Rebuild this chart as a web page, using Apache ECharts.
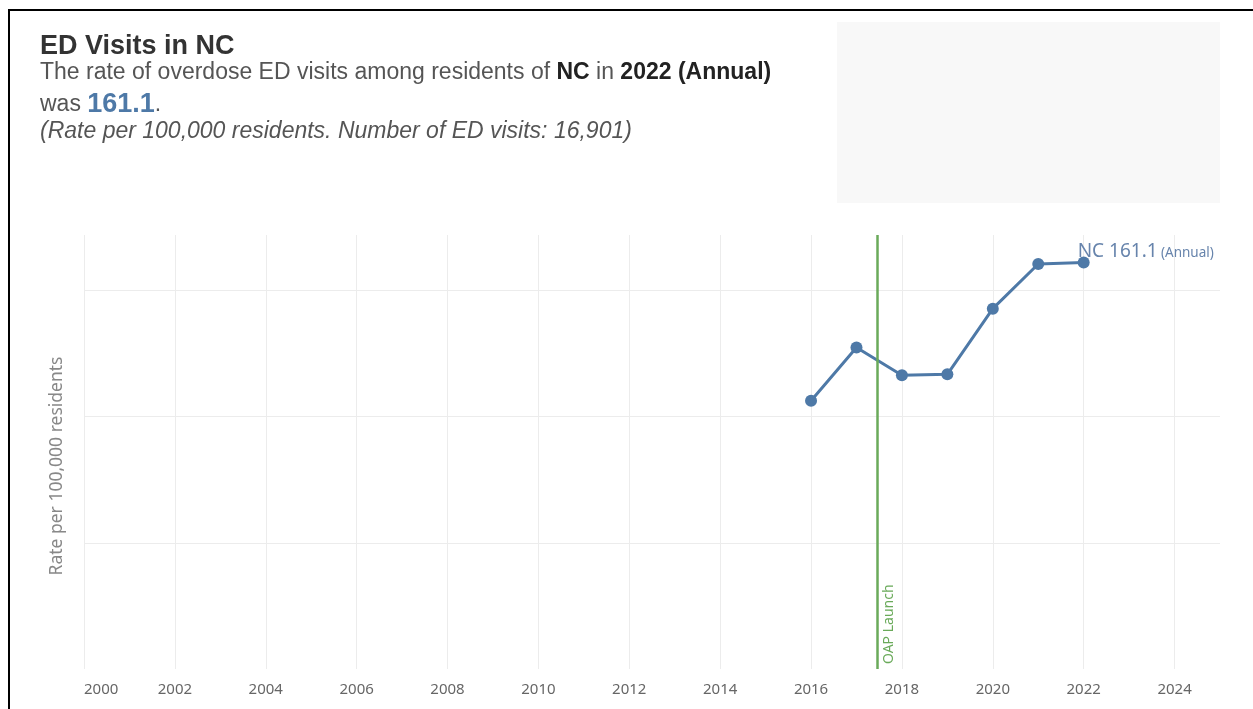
<!DOCTYPE html>
<html>
<head>
<meta charset="utf-8">
<title>ED Visits in NC</title>
<script src="https://cdn.jsdelivr.net/npm/echarts@6/dist/echarts.min.js"></script>
<style>
  html, body { margin: 0; padding: 0; background: #fff; }
  #chart { width: 1253px; height: 709px; }
</style>
</head>
<body>
<div id="chart"></div>
<script>
// data
const years = [2016, 2017, 2018, 2019, 2020, 2021, 2022];
const rates = [106.3, 127.4, 116.4, 116.8, 142.8, 160.5, 161.1];
const launchYear = 2017.45;
const xTicks = [2000, 2002, 2004, 2006, 2008, 2010, 2012, 2014, 2016, 2018, 2020, 2022, 2024];

const blue = '#4e79a7';
const green = '#6aaa5a';
const chartFont = '"Noto Sans", sans-serif';
const headFont = '"Liberation Sans", Arial, sans-serif';

const chart = echarts.init(document.getElementById('chart'));

const points = years.map((y, i) => {
  const item = { value: [y, rates[i]] };
  if (i === years.length - 1) {
    item.label = {
      show: true,
      position: [0, -14],
      formatter: '{a|NC ' + rates[i].toFixed(1) + '} {b|(Annual)}',
      rich: {
        a: { fontSize: 19, color: '#6784ac', fontFamily: chartFont },
        b: { fontSize: 13.5, color: '#6784ac', fontFamily: chartFont, padding: [2, 0, 0, 0] },
      },
    };
  }
  return item;
});

chart.setOption({
  animation: false,
  grid: { left: 84, right: 33, top: 235, bottom: 40 },
  xAxis: {
    type: 'value',
    min: 2000,
    max: 2025,
    interval: 2,
    axisLine: { show: false },
    axisTick: { show: false },
    axisLabel: {
      color: '#666',
      fontSize: 15,
      fontFamily: chartFont,
      margin: 13,
      showMaxLabel: false,
      alignMinLabel: 'left',
      formatter: v => (xTicks.indexOf(v) >= 0 ? String(v) : ''),
    },
    splitLine: { show: true, showMaxLine: false, lineStyle: { color: '#ececec', width: 1 } },
  },
  yAxis: {
    type: 'value',
    min: 0,
    max: 172,
    interval: 50,
    axisLine: { show: false },
    axisTick: { show: false },
    axisLabel: { show: false },
    splitLine: { show: true, showMinLine: false, showMaxLine: false, lineStyle: { color: '#ececec', width: 1 } },
  },
  series: [
    {
      type: 'line',
      data: points,
      symbol: 'circle',
      symbolSize: 12,
      color: blue,
      lineStyle: { color: blue, width: 3 },
      itemStyle: { color: blue },
      markLine: {
        silent: true,
        symbol: 'none',
        lineStyle: { color: green, width: 2.5, type: 'solid' },
        label: {
          show: true,
          position: 'insideStartBottom',
          formatter: 'OAP Launch',
          color: green,
          fontSize: 14,
          fontFamily: chartFont,
          distance: 5,
        },
        data: [{ xAxis: launchYear }],
      },
    },
  ],
  graphic: [
    { type: 'rect', shape: { x: 837, y: 22, width: 383, height: 181 }, style: { fill: '#f8f8f8' }, silent: true },
    { type: 'line', shape: { x1: 8, y1: 10, x2: 1253, y2: 10 }, style: { stroke: '#000', lineWidth: 2 } },
    { type: 'line', shape: { x1: 9, y1: 9, x2: 9, y2: 709 }, style: { stroke: '#000', lineWidth: 2 } },
    {
      type: 'text', x: 57, y: 466, rotation: Math.PI / 2,
      style: { text: 'Rate per 100,000 residents', font: '17.5px ' + chartFont, fill: '#888', align: 'center', verticalAlign: 'middle' },
    },
    {
      type: 'text', x: 40, y: 47,
      style: { text: 'ED Visits in NC', font: 'bold 27px ' + headFont, fill: '#333', verticalAlign: 'middle' },
    },
    {
      type: 'text', x: 40, y: 73,
      style: {
        text: '{n|The rate of overdose ED visits among residents of }{b|NC}{n| in }{b|2022 (Annual)}',
        verticalAlign: 'middle',
        rich: {
          n: { font: '23px ' + headFont, fill: '#555' },
          b: { font: 'bold 23px ' + headFont, fill: '#222' },
        },
      },
    },
    {
      type: 'text', x: 40, y: 105,
      style: {
        text: '{n|was }{v|161.1}{n|.}',
        verticalAlign: 'middle',
        rich: {
          n: { font: '23px ' + headFont, fill: '#555', verticalAlign: 'bottom', padding: [0, 0, 2, 0] },
          v: { font: 'bold 27px ' + headFont, fill: blue, verticalAlign: 'bottom' },
        },
      },
    },
    {
      type: 'text', x: 40, y: 132,
      style: { text: '(Rate per 100,000 residents. Number of ED visits: 16,901)', font: 'italic 23px ' + headFont, fill: '#555', verticalAlign: 'middle' },
    },
  ],
});
</script>
</body>
</html>
